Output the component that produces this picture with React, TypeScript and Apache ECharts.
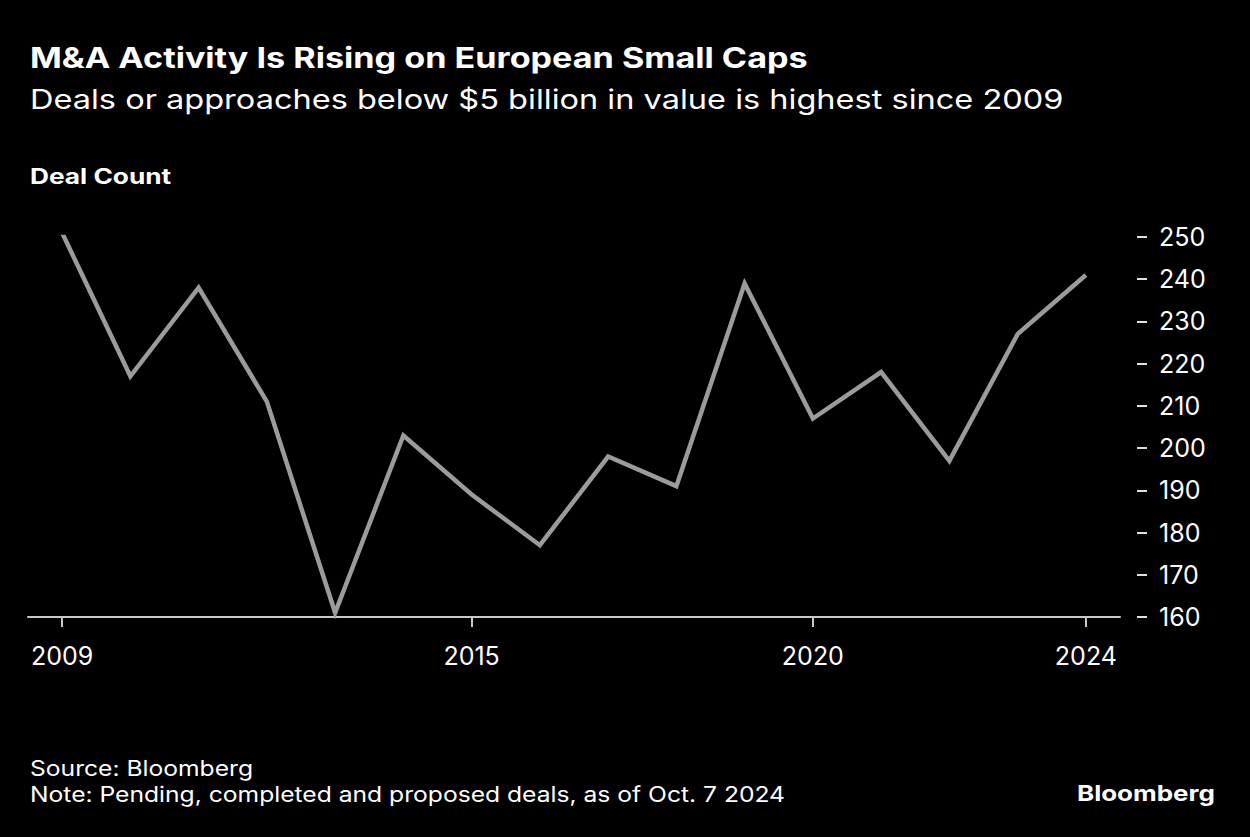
import React, { useEffect, useRef } from "react";
import * as echarts from "echarts";

const years = ["2009","2010","2011","2012","2013","2014","2015","2016","2017","2018","2019","2020","2021","2022","2023","2024"];
const dealCount = [251, 217, 238, 211, 161, 203, 189, 177, 198, 191, 239, 207, 218, 197, 227, 241];
const labeledYears = ["2009", "2015", "2020", "2024"];
const yMin = 160;
const yMax = 250;
const yStep = 10;

const FONT = "Inter, 'Liberation Sans', Arial, sans-serif";

function txt(text: string, x: number, y: number, font: string, scaleX: number) {
  return {
    type: "text",
    x,
    y,
    scaleX,
    style: { text, x: 0, y: 0, fill: "#fff", font, align: "left", verticalAlign: "top" },
  };
}

export default function App() {
  const ref = useRef<HTMLDivElement>(null);
  useEffect(() => {
    document.body.style.margin = "0";
    document.body.style.background = "#000";
    const chart = echarts.init(ref.current!, null, { renderer: "svg" });
    const showYear = (i: number) => labeledYears.includes(years[i]);
    chart.setOption({
      animation: false,
      backgroundColor: "#000",
      grid: { left: 28, right: 130, top: 237, bottom: 220, containLabel: false },
      xAxis: {
        type: "category",
        data: years,
        boundaryGap: true,
        axisLine: { show: true, lineStyle: { color: "#c8c8c8", width: 2 } },
        axisTick: { show: true, alignWithLabel: true, length: 10, interval: (i: number) => showYear(i), lineStyle: { color: "#c8c8c8", width: 2 } },
        axisLabel: { show: true, interval: (i: number) => showYear(i), color: "#fff", fontFamily: FONT, fontSize: 25, margin: 26 },
        splitLine: { show: false },
      },
      yAxis: {
        type: "value",
        position: "right",
        min: yMin,
        max: yMax,
        interval: yStep,
        offset: 17,
        axisLine: { show: false },
        axisTick: { show: true, length: 10, lineStyle: { color: "#e0e0e0", width: 2 } },
        axisLabel: { color: "#fff", fontFamily: FONT, fontSize: 25, margin: 22 },
        splitLine: { show: false },
      },
      series: [
        {
          type: "line",
          data: dealCount,
          symbol: "none",
          lineStyle: { color: "#9b9b9b", width: 4.5, join: "miter" },
          z: 3,
        },
      ],
      graphic: [
        txt("M&A Activity Is Rising on European Small Caps", 30, 44, `bold 28px ${FONT}`, 1.22),
        txt("Deals or approaches below $5 billion in value is highest since 2009", 30, 86, `27px ${FONT}`, 1.205),
        txt("Deal Count", 30, 166, `bold 21px ${FONT}`, 1.25),
        txt("Source: Bloomberg", 30, 758, `21px ${FONT}`, 1.174),
        txt("Note: Pending, completed and proposed deals, as of Oct. 7 2024", 30, 784, `21px ${FONT}`, 1.174),
        txt("Bloomberg", 1077, 782, `bold 22px ${FONT}`, 1.18),
      ],
    });
    return () => chart.dispose();
  }, []);
  return <div ref={ref} style={{ position: "fixed", left: 0, top: 0, width: 1250, height: 837, background: "#000" }} />;
}
